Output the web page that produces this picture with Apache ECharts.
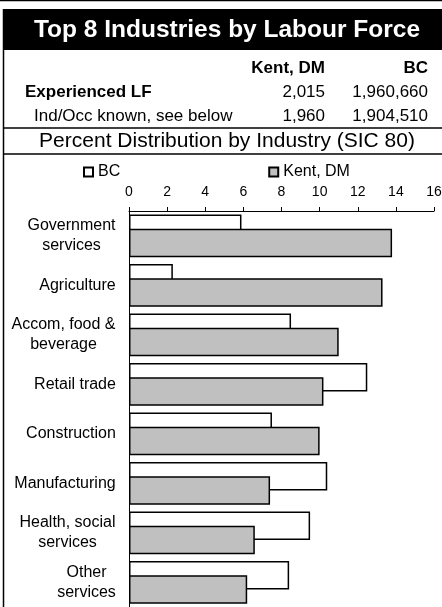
<!DOCTYPE html>
<html>
<head>
<meta charset="utf-8">
<script src="https://cdn.jsdelivr.net/npm/echarts@6/dist/echarts.min.js"></script>
<style>
  html, body { margin: 0; padding: 0; background: #fff; }
  #chart { width: 442px; height: 607px; }
</style>
</head>
<body>
<div id="chart"></div>
<script>
var FONT = '"Liberation Sans", Arial, sans-serif';

var chartTitle = 'Top 8 Industries by Labour Force';
var subTitle = 'Percent Distribution by Industry (SIC 80)';
var tableCols = ['Kent, DM', 'BC'];
var tableRows = ['Experienced LF', 'Ind/Occ known, see below'];
var kentCounts = ['2,015', '1,960'];
var bcCounts = ['1,960,660', '1,904,510'];

var categories = ['Government\nservices', 'Agriculture', 'Accom, food &\nbeverage', 'Retail trade',
    'Construction', 'Manufacturing', 'Health, social\nservices', 'Other\nservices'];
var bcValues = [5.9, 2.3, 8.5, 12.5, 7.5, 10.4, 9.5, 8.4];
var kentValues = [13.8, 13.3, 11.0, 10.2, 10.0, 7.4, 6.6, 6.2];
var xTicks = { min: 0, max: 16, step: 2 };

// rich styles so two-line labels are centred on each other
var ctx = document.createElement('canvas').getContext('2d');
ctx.font = '16px ' + FONT;
var rich = {};
categories.forEach(function (c, i) {
    var w = 0;
    c.split('\n').forEach(function (s) { w = Math.max(w, ctx.measureText(s).width); });
    rich['c' + i] = { width: Math.ceil(w), align: 'center', fontSize: 16, lineHeight: 20, fontFamily: FONT, color: '#000' };
});

var myChart = echarts.init(document.getElementById('chart'));

var graphics = [
    { type: 'line', shape: { x1: 0, y1: 0.5, x2: 442, y2: 0.5 }, style: { stroke: '#000', lineWidth: 1.5 } },
    { type: 'rect', shape: { x: 3, y: 9, width: 440, height: 41 }, style: { fill: '#000' } },
    { type: 'line', shape: { x1: 3.5, y1: 9, x2: 3.5, y2: 607 }, style: { stroke: '#000', lineWidth: 1.5 } },
    { type: 'line', shape: { x1: 3, y1: 128, x2: 442, y2: 128 }, style: { stroke: '#000', lineWidth: 1.5 } },
    { type: 'line', shape: { x1: 3, y1: 154, x2: 442, y2: 154 }, style: { stroke: '#000', lineWidth: 1.5 } },
    { type: 'text', x: 227, y: 30, style: { text: chartTitle, fill: '#fff', font: 'bold 24.5px ' + FONT, textAlign: 'center', textVerticalAlign: 'middle' } },
    { type: 'text', x: 325, y: 68, style: { text: tableCols[0], fill: '#000', font: 'bold 17px ' + FONT, textAlign: 'right', textVerticalAlign: 'middle' } },
    { type: 'text', x: 428, y: 68, style: { text: tableCols[1], fill: '#000', font: 'bold 17px ' + FONT, textAlign: 'right', textVerticalAlign: 'middle' } },
    { type: 'text', x: 227, y: 141, style: { text: subTitle, fill: '#000', font: '21px ' + FONT, textAlign: 'center', textVerticalAlign: 'middle' } }
];
tableRows.forEach(function (r, i) {
    var y = 92 + i * 24;
    graphics.push({ type: 'text', x: i === 0 ? 25 : 34, y: y, style: { text: r, fill: '#000', font: (i === 0 ? 'bold ' : '') + '17px ' + FONT, textAlign: 'left', textVerticalAlign: 'middle' } });
    graphics.push({ type: 'text', x: 325, y: y, style: { text: kentCounts[i], fill: '#000', font: '17px ' + FONT, textAlign: 'right', textVerticalAlign: 'middle' } });
    graphics.push({ type: 'text', x: 428, y: y, style: { text: bcCounts[i], fill: '#000', font: '17px ' + FONT, textAlign: 'right', textVerticalAlign: 'middle' } });
});

option = {
    animation: false,
    textStyle: { fontFamily: FONT },
    graphic: graphics,
    legend: {
        data: ['BC', 'Kent, DM'],
        left: 83,
        top: 164,
        padding: 0,
        itemGap: 148,
        itemWidth: 9,
        itemHeight: 9,
        icon: 'rect',
        textStyle: { fontSize: 16, color: '#000', fontFamily: FONT }
    },
    grid: { left: 129, right: 8, top: 211, bottom: 0, outerBoundsMode: 'none' },
    xAxis: {
        type: 'value',
        position: 'top',
        min: xTicks.min,
        max: xTicks.max,
        interval: xTicks.step,
        splitLine: { show: false },
        axisLine: { show: true, lineStyle: { color: '#000', width: 1 } },
        axisTick: { show: true, length: 4, lineStyle: { color: '#000' } },
        axisLabel: { fontSize: 14, color: '#000', margin: 12, fontFamily: FONT }
    },
    yAxis: {
        type: 'category',
        inverse: true,
        data: categories,
        axisLine: { show: true, lineStyle: { color: '#000', width: 1 } },
        axisTick: { show: false },
        axisLabel: {
            margin: 13,
            formatter: function (v, i) {
                return v.split('\n').map(function (s) { return '{c' + i + '|' + s + '}'; }).join('\n');
            },
            rich: rich
        }
    },
    series: [
        {
            name: 'BC',
            type: 'bar',
            data: bcValues,
            barWidth: 28.5,
            barGap: '-50%',
            itemStyle: { color: '#fff', borderColor: '#000', borderWidth: 1.5 }
        },
        {
            name: 'Kent, DM',
            type: 'bar',
            data: kentValues,
            barWidth: 28.5,
            barGap: '-50%',
            itemStyle: { color: '#c0c0c0', borderColor: '#000', borderWidth: 1.5 }
        }
    ]
};
myChart.setOption(option);
</script>
</body>
</html>
